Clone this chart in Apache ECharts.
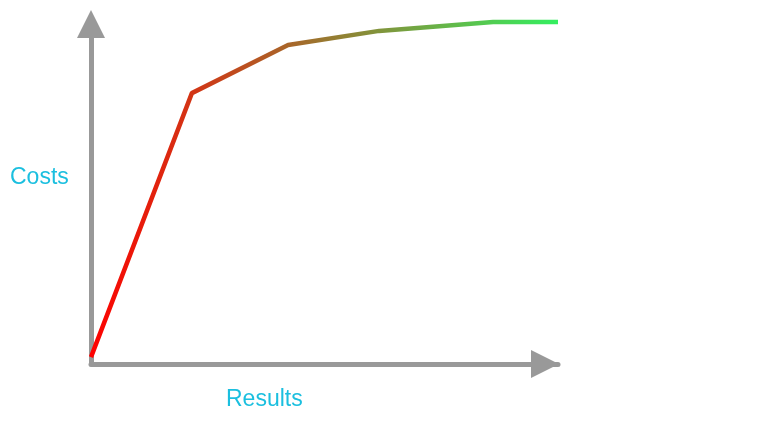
<!DOCTYPE html>
<html>
<head>
<meta charset="utf-8">
<script src="https://cdn.jsdelivr.net/npm/echarts@6/dist/echarts.min.js"></script>
<style>
  html, body { margin: 0; padding: 0; background: #fff; }
  #chart { width: 779px; height: 428px; }
</style>
</head>
<body>
<div id="chart"></div>
<script>
// results (x) vs costs (y), 0..100 scale
const results = [0, 21.6, 42.2, 61.7, 86.1, 100]
const costs = [2, 79.2, 93.3, 97.4, 100, 100]

const xName = 'Results'
const yName = 'Costs'

const axisGrey = '#999999'
const labelColor = '#1bbfdf'

const chart = echarts.init(document.getElementById('chart'))

const option = {
  animation: false,
  grid: { left: 91, right: 221, top: 22, bottom: 64 },
  xAxis: {
    type: 'value',
    min: 0,
    max: 100,
    axisLine: {
      show: true,
      symbol: ['none', 'triangle'],
      symbolSize: [28, 28],
      symbolOffset: [0, -13],
      lineStyle: { color: axisGrey, width: 5 }
    },
    axisTick: { show: false },
    axisLabel: { show: false },
    splitLine: { show: false }
  },
  yAxis: {
    type: 'value',
    min: 0,
    max: 100,
    axisLine: {
      show: true,
      symbol: ['none', 'triangle'],
      symbolSize: [28, 28],
      symbolOffset: [0, -2],
      lineStyle: { color: axisGrey, width: 5 }
    },
    axisTick: { show: false },
    axisLabel: { show: false },
    splitLine: { show: false }
  },
  graphic: [
    {
      type: 'text',
      left: 10,
      top: 166,
      style: { text: yName, fill: labelColor, font: '23px "Liberation Sans", sans-serif' }
    },
    {
      type: 'text',
      left: 226,
      top: 388,
      style: { text: xName, fill: labelColor, font: '23px "Liberation Sans", sans-serif' }
    }
  ],
  series: [{
    type: 'line',
    data: results.map((x, i) => [x, costs[i]]),
    showSymbol: false,
    clip: false,
    lineStyle: {
      width: 4.5,
      color: new echarts.graphic.LinearGradient(0, 0, 1, 0, [
        { offset: 0, color: '#ff0000' },
        { offset: 1, color: '#33f060' }
      ])
    }
  }]
}

chart.setOption(option)
</script>
</body>
</html>
